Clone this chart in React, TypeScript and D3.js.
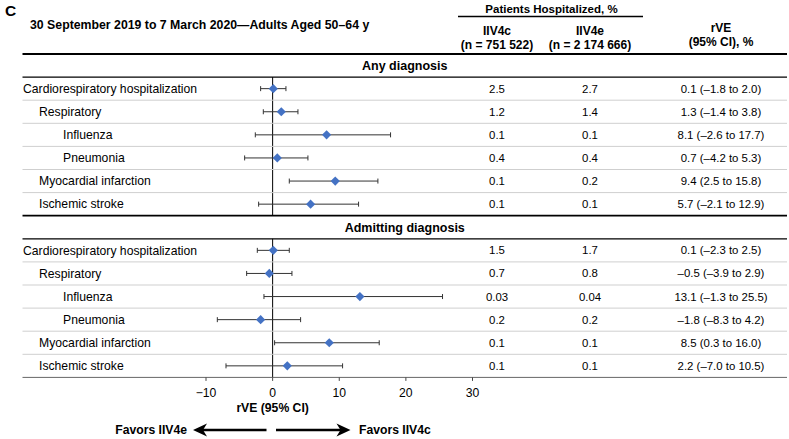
import React from "react";
import * as d3 from "d3";

const labels = [
  "Cardiorespiratory hospitalization",
  "Respiratory",
  "Influenza",
  "Pneumonia",
  "Myocardial infarction",
  "Ischemic stroke",
];
const indents = [0, 1, 2, 2, 1, 1];
const sections = ["Any diagnosis", "Admitting diagnosis"];

const anyIIV4c = ["2.5", "1.2", "0.1", "0.4", "0.1", "0.1"];
const anyIIV4e = ["2.7", "1.4", "0.1", "0.4", "0.2", "0.1"];
const anyRve = [0.1, 1.3, 8.1, 0.7, 9.4, 5.7];
const anyLo = [-1.8, -1.4, -2.6, -4.2, 2.5, -2.1];
const anyHi = [2.0, 3.8, 17.7, 5.3, 15.8, 12.9];

const admIIV4c = ["1.5", "0.7", "0.03", "0.2", "0.1", "0.1"];
const admIIV4e = ["1.7", "0.8", "0.04", "0.2", "0.1", "0.1"];
const admRve = [0.1, -0.5, 13.1, -1.8, 8.5, 2.2];
const admLo = [-2.3, -3.9, -1.3, -8.3, 0.3, -7.0];
const admHi = [2.5, 2.9, 25.5, 4.2, 16.0, 10.5];

const xTicks = [-10, 0, 10, 20, 30];

const FONT = "'Liberation Sans', Arial, sans-serif";
const fmt = (v: number) => (v < 0 ? "\u2013" + Math.abs(v).toFixed(1) : v.toFixed(1));
const indentPx = [0, 16, 40];

export default function App() {
  const W = 789, H = 439;
  const x = d3.scaleLinear().domain([-10, 30]).range([206, 472.5]);
  const y0 = 54, rh = 23.1;
  const left = 22.5, right = 787;
  const col1 = 497, col2 = 590, col3 = 721;
  const LF = 12.2, VF = 11.4, HF = 12;

  const secData = [
    { c: anyIIV4c, e: anyIIV4e, r: anyRve, lo: anyLo, hi: anyHi },
    { c: admIIV4c, e: admIIV4e, r: admRve, lo: admLo, hi: admHi },
  ];

  const els: React.ReactNode[] = [];
  secData.forEach((s, si) => {
    const top = y0 + si * 7 * rh;
    els.push(
      <text key={`sh${si}`} x={(left + right) / 2} y={top + rh / 2} dy="0.35em" textAnchor="middle" fontWeight="bold" fontSize={12.5}>
        {sections[si]}
      </text>
    );
    els.push(<line key={`shl${si}`} x1={left} x2={right} y1={top + rh} y2={top + rh} stroke="#000" strokeWidth={1.3} />);
    els.push(<line key={`z${si}`} x1={x(0)} x2={x(0)} y1={top + rh} y2={top + 7 * rh} stroke="#000" strokeWidth={1} />);
    labels.forEach((lab, i) => {
      const rt = top + (i + 1) * rh;
      const cy = rt + rh / 2;
      if (i < labels.length - 1)
        els.push(<line key={`sep${si}-${i}`} x1={left} x2={right} y1={rt + rh} y2={rt + rh} stroke="#cfcfcf" strokeWidth={1} />);
      els.push(
        <text key={`l${si}-${i}`} x={left + 0.5 + indentPx[indents[i]]} y={cy} dy="0.35em" fontSize={LF}>{lab}</text>
      );
      els.push(<text key={`c${si}-${i}`} x={col1} y={cy} dy="0.35em" textAnchor="middle" fontSize={VF}>{s.c[i]}</text>);
      els.push(<text key={`e${si}-${i}`} x={col2} y={cy} dy="0.35em" textAnchor="middle" fontSize={VF}>{s.e[i]}</text>);
      els.push(
        <text key={`r${si}-${i}`} x={col3} y={cy} dy="0.35em" textAnchor="middle" fontSize={VF}>
          {`${fmt(s.r[i])} (${fmt(s.lo[i])} to ${fmt(s.hi[i])})`}
        </text>
      );
      const xl = x(s.lo[i]), xh = x(s.hi[i]), xm = x(s.r[i]);
      els.push(
        <g key={`eb${si}-${i}`} stroke="#333" strokeWidth={1}>
          <line x1={xl} x2={xh} y1={cy} y2={cy} />
          <line x1={xl} x2={xl} y1={cy - 2.5} y2={cy + 2.5} />
          <line x1={xh} x2={xh} y1={cy - 2.5} y2={cy + 2.5} />
        </g>
      );
      const d = 4.6;
      els.push(
        <path key={`d${si}-${i}`} d={`M${xm},${cy - d}L${xm + d},${cy}L${xm},${cy + d}L${xm - d},${cy}Z`} fill="#4472C4" />
      );
    });
  });

  const axisY = y0 + 14 * rh;
  const arrowY = 430;
  const x0 = x(0);

  return (
    <svg width={W} height={H} style={{ position: "absolute", left: 0, top: 0, fontFamily: FONT }}>
      <rect width={W} height={H} fill="#fff" />
      <text x={5} y={11} dy="0.35em" fontSize={15.5} fontWeight="bold">C</text>
      <text x={30} y={25} dy="0.35em" fontSize={12.3} fontWeight="bold">
        30 September 2019 to 7 March 2020—Adults Aged 50–64 y
      </text>
      <text x={551.5} y={8.5} dy="0.35em" textAnchor="middle" fontSize={11.5} fontWeight="bold">Patients Hospitalized, %</text>
      <line x1={458} x2={643} y1={16.5} y2={16.5} stroke="#000" strokeWidth={1.5} />
      <text x={col1} y={31} dy="0.35em" textAnchor="middle" fontSize={HF} fontWeight="bold">IIV4c</text>
      <text x={col1} y={45} dy="0.35em" textAnchor="middle" fontSize={HF} fontWeight="bold">(n = 751 522)</text>
      <text x={col2} y={31} dy="0.35em" textAnchor="middle" fontSize={HF} fontWeight="bold">IIV4e</text>
      <text x={col2} y={45} dy="0.35em" textAnchor="middle" fontSize={HF} fontWeight="bold">(n = 2 174 666)</text>
      <text x={col3} y={27.5} dy="0.35em" textAnchor="middle" fontSize={HF} fontWeight="bold">rVE</text>
      <text x={col3} y={41.5} dy="0.35em" textAnchor="middle" fontSize={HF} fontWeight="bold">(95% CI), %</text>
      <line x1={left} x2={right} y1={y0} y2={y0} stroke="#000" strokeWidth={1.8} />
      <line x1={left} x2={right} y1={y0 + 7 * rh} y2={y0 + 7 * rh} stroke="#000" strokeWidth={1.8} />
      {els}
      <line x1={left} x2={right} y1={axisY} y2={axisY} stroke="#666" strokeWidth={1} />
      {xTicks.map((t) => (
        <g key={`t${t}`}>
          <line x1={x(t)} x2={x(t)} y1={axisY} y2={axisY + 3.5} stroke="#444" strokeWidth={1} />
          <text x={x(t)} y={axisY + 15} dy="0.35em" textAnchor="middle" fontSize={LF}>{fmt0(t)}</text>
        </g>
      ))}
      <text x={x0} y={408} dy="0.35em" textAnchor="middle" fontSize={LF} fontWeight="bold">rVE (95% CI)</text>
      <text x={187} y={arrowY} dy="0.35em" textAnchor="end" fontSize={LF} fontWeight="bold">Favors IIV4e</text>
      <text x={359} y={arrowY} dy="0.35em" textAnchor="start" fontSize={LF} fontWeight="bold">Favors IIV4c</text>
      <line x1={266.5} x2={200} y1={arrowY} y2={arrowY} stroke="#000" strokeWidth={2.5} />
      <path d={`M193,${arrowY}L207,${arrowY - 6.5}L203,${arrowY}L207,${arrowY + 6.5}Z`} fill="#000" />
      <line x1={276} x2={343} y1={arrowY} y2={arrowY} stroke="#000" strokeWidth={2.5} />
      <path d={`M350.5,${arrowY}L336.5,${arrowY - 6.5}L340.5,${arrowY}L336.5,${arrowY + 6.5}Z`} fill="#000" />
    </svg>
  );
}

function fmt0(t: number) {
  return t < 0 ? "\u2212" + Math.abs(t) : String(t);
}
